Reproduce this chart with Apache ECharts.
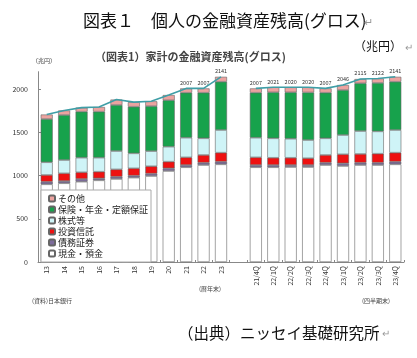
<!DOCTYPE html>
<html><head><meta charset="utf-8">
<script src="https://cdn.jsdelivr.net/npm/echarts@6/dist/echarts.min.js"></script>
<style>html,body{margin:0;padding:0;background:#fff}#c{width:417px;height:358px}</style>
</head><body><div id="c"></div>
<script>
// ---- data (兆円) ----
const categories = ['13','14','15','16','17','18','19','20','21','22','23','',
  '21/4Q','22/1Q','22/2Q','22/3Q','22/4Q','23/1Q','23/2Q','23/3Q','23/4Q'];
const cash      = [898, 910, 928, 944, 960, 975, 994, 1052, 1095, 1121, 1129, null, 1095, 1095, 1098, 1098, 1121, 1110, 1121, 1121, 1129];
const bonds     = [30, 26, 32, 23, 26, 23, 28, 31, 26, 27, 31, null, 26, 26, 23, 23, 27, 31, 27, 27, 31];
const trusts    = [78, 89, 77, 77, 85, 85, 85, 77, 89, 89, 104, null, 89, 84, 84, 79, 89, 104, 101, 104, 104];
const stocks    = [147, 154, 169, 162, 212, 173, 175, 173, 227, 193, 262, null, 227, 225, 220, 210, 193, 223, 265, 258, 262];
const insurance = [500, 520, 532, 532, 532, 539, 520, 537, 520, 527, 558, null, 520, 532, 537, 550, 527, 520, 552, 560, 558];
const other     = [52, 53, 47, 54, 63, 53, 56, 60, 50, 50, 57, null, 50, 59, 58, 60, 50, 58, 49, 52, 57];
const totals    = [1705, 1752, 1785, 1792, 1878, 1848, 1858, 1930, 2007, 2007, 2141, null, 2007, 2021, 2020, 2020, 2007, 2046, 2115, 2122, 2141];
const labelledIdx = [8, 9, 10, 12, 13, 14, 15, 16, 17, 18, 19, 20];
const yTicks = [0, 500, 1000, 1500, 2000];
const seriesNames = ['現金・預金','債務証券','投資信託','株式等','保険・年金・定額保証','その他'];

const colors = ['#ffffff','#7d6c9c','#ee1111','#cff4f7','#17a24c','#eca3a0'];
const dataSets = [cash, bonds, trusts, stocks, insurance, other];

const chart = echarts.init(document.getElementById('c'), null, {renderer:'canvas'});
const FONT = '"Noto Sans CJK JP", "Noto Sans", sans-serif';

const barSeries = dataSets.map((d, i) => ({
  name: seriesNames[i], type: 'bar', stack: 'a', data: d, barWidth: 12,
  itemStyle: {color: colors[i], borderColor: '#666', borderWidth: 0.6},
  emphasis: {disabled: true}, z: 2
}));
// total labels on top of the uppermost stacked segment
barSeries[5].label = {
  show: true, position: 'top', distance: 3, fontSize: 5.5, color: '#333', fontFamily: FONT,
  formatter: p => labelledIdx.includes(p.dataIndex) ? String(totals[p.dataIndex]) : ''
};

const option = {
  animation: false,
  textStyle: {fontFamily: FONT},
  grid: {left: 38, right: 13, top: 71.7, bottom: 96, containLabel: false},
  legend: {
    orient: 'vertical', left: 41, top: 190,
    data: seriesNames.slice().reverse(),
    itemWidth: 6, itemHeight: 6, itemGap: 0,
    backgroundColor: '#fff', borderColor: '#aaa', borderWidth: 1,
    padding: [3, 3, 3, 7],
    textStyle: {fontSize: 9, color: '#222', lineHeight: 11, padding: [0,0,0,-2], fontFamily: FONT},
    z: 10
  },
  xAxis: {
    type: 'category', data: categories,
    axisLine: {lineStyle: {color: '#888'}},
    axisTick: {show: true, inside: true, length: 2, lineStyle: {color: '#888'}, interval: 0},
    axisLabel: {rotate: 90, interval: 0, fontSize: 7, color: '#333', margin: 4, fontFamily: FONT}
  },
  yAxis: {
    type: 'value', min: 0, max: 2200, interval: 500,
    axisLine: {show: true, lineStyle: {color: '#888'}},
    axisTick: {show: true, inside: true, length: 3, lineStyle: {color: '#888'}},
    splitLine: {show: false},
    axisLabel: {fontSize: 7, color: '#333', margin: 10, showMaxLabel: false,
      formatter: v => yTicks.includes(v) ? String(v) : ''}
  },
  series: barSeries.concat([{
    name: 'total', type: 'line', data: totals, symbol: 'none', connectNulls: false,
    lineStyle: {color: '#3f9ea6', width: 1.6}, z: 5, silent: true
  }]),
  graphic: [
    {type:'text', left: 83, top: 12, style:{text:'図表１　個人の金融資産残高(グロス)', fontSize: 17, fill:'#111', fontFamily: FONT}},
    {type:'text', left: 364, top: 16, style:{text:'↵', fontSize: 11, fill:'#999', fontFamily: FONT}},
    {type:'text', left: 354, top: 40, style:{text:'（兆円）', fontSize: 12, fill:'#111', fontFamily: FONT}},
    {type:'text', left: 405, top: 42, style:{text:'↵', fontSize: 10, fill:'#999', fontFamily: FONT}},
    {type:'text', left: 95, top: 51, style:{text:'（図表1）家計の金融資産残高(グロス)', fontSize: 11, fontWeight:'bold', fill:'#444', fontFamily: FONT}},
    {type:'text', left: 32, top: 58, style:{text:'（兆円）', fontSize: 6, fill:'#444', fontFamily: FONT}},
    {type:'text', left: 199, top: 286, style:{text:'(暦年末)', fontSize: 6, fill:'#444', fontFamily: FONT}},
    {type:'text', left: 362, top: 298, style:{text:'(四半期末)', fontSize: 6, fill:'#444', fontFamily: FONT}},
    {type:'text', left: 32, top: 298, style:{text:'(資料)日本銀行', fontSize: 6, fill:'#444', fontFamily: FONT}},
    {type:'text', left: 178, top: 325, style:{text:'（出典）ニッセイ基礎研究所', fontSize: 15.5, fill:'#111', fontFamily: FONT}},
    {type:'text', left: 382, top: 328, style:{text:'↵', fontSize: 10, fill:'#999', fontFamily: FONT}}
  ]
};
chart.setOption(option);
</script></body></html>
